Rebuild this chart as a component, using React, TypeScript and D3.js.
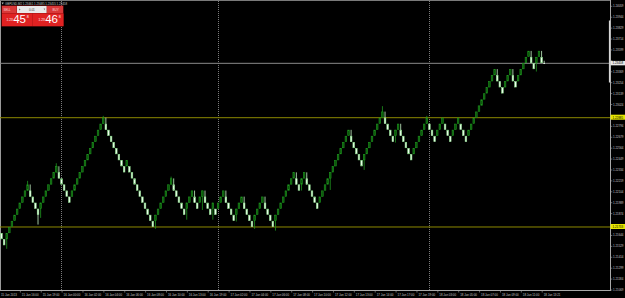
import React from "react";
import * as d3 from "d3";

const W = 625;
const H = 298;

// Renko bricks: bottom level of each brick (in brick units above BASE)
const startLevel = -1;
const brickLevels: number[] = [
  -2, -3, -2, -1, 0, 1, 2, 3, 4, 5,
  6, 5, 4, 3, 2, 3, 4, 5, 6, 7,
  8, 9, 8, 7, 6, 5, 4, 5, 6, 7,
  8, 9, 10, 11, 12, 13, 14, 15, 16, 17,
  16, 15, 14, 13, 12, 11, 10, 9, 10, 9,
  8, 7, 6, 5, 4, 3, 2, 1, 0, 1,
  2, 3, 4, 5, 6, 7, 6, 5, 4, 3,
  2, 3, 4, 5, 4, 3, 4, 5, 4, 3,
  2, 3, 2, 3, 4, 5, 4, 3, 2, 1,
  2, 3, 4, 3, 2, 1, 0, 1, 2, 3,
  4, 3, 2, 1, 0, 1, 2, 3, 4, 5,
  6, 7, 8, 7, 6, 7, 8, 7, 6, 5,
  4, 3, 4, 5, 6, 7, 8, 9, 10, 11,
  12, 13, 14, 15, 14, 13, 12, 11, 10, 11,
  12, 13, 14, 15, 16, 17, 18, 17, 16, 15,
  14, 15, 16, 15, 14, 13, 12, 11, 12, 13,
  14, 15, 16, 17, 16, 15, 14, 15, 16, 17,
  16, 15, 14, 15, 16, 17, 16, 15, 14, 15,
  16, 17, 18, 19, 20, 21, 22, 23, 24, 25,
  24, 23, 22, 23, 24, 25, 24, 23, 24, 25,
  26, 27, 28, 27, 26, 27, 28, 27,
];
const BOX = 0.00064;
const BASE = 1.21733;

// wicks: [bar index, high level, low level]
const wicks: [number, number, number][] = [
  [2, -1, -3.6], [10, 7.6, 6], [11, 7, 5], [14, 3, 0.4], [15, 4, 1.5],
  [21, 10.5, 9], [22, 10, 8], [39, 18.3, 17], [40, 18, 16], [59, 2, -0.3],
  [65, 8.3, 7], [66, 8, 6], [71, 4, 1.2], [74, 6, 4], [77, 6, 2.8],
  [78, 6, 4], [81, 4, 1.2], [86, 6, 4], [90, 3, 0.9], [93, 5, 3],
  [97, 2, -0.3], [101, 5, 3], [105, 2, -0.6], [113, 9, 7], [115, 8, 6],
  [117, 9, 7], [126, 9, 6.1], [134, 16, 14], [139, 12, 9.4], [146, 19.9, 18],
  [147, 19, 17], [151, 16, 13.9], [153, 17, 15], [163, 18.3, 17], [190, 26, 24],
  [196, 26, 24], [203, 29, 27], [205, 28, 25.6], [207, 29, 27],
];

// forming (last) bar prices
const formingOpen = 1.23461;
const formingHigh = 1.23485;
const formingLow = 1.23455;
const formingClose = 1.23458;

const symbol = "GBPUSD,M2";
const bidPrice = 1.23458;
const askPrice = 1.23468;
const lotSize = "0.01";

const levelLines = [1.22885, 1.21733];

const priceTicks = [
  1.24059, 1.23944, 1.23829, 1.23714, 1.23599, 1.23484, 1.23369, 1.23254, 1.23139,
  1.23024, 1.22909, 1.22794, 1.22679, 1.22564, 1.22449, 1.22334, 1.22219, 1.22104,
  1.21989, 1.21874, 1.21759, 1.21644, 1.21529, 1.21414, 1.21299, 1.21184, 1.21069,
];

const timeLabelBars = [0, 8, 16, 24, 32, 40, 48, 56, 64, 72, 80, 88, 96, 104, 112, 120, 128, 136, 144, 152, 160, 168, 176, 184, 192, 200, 208];
const timeLabels = [
  "15 Jan 2013", "15 Jan 16:00", "15 Jan 19:00", "16 Jan 00:00", "16 Jan 02:00",
  "16 Jan 04:00", "16 Jan 06:00", "16 Jan 08:00", "16 Jan 10:00", "16 Jan 13:00",
  "16 Jan 19:00", "17 Jan 02:00", "17 Jan 04:00", "17 Jan 06:00", "17 Jan 08:00",
  "17 Jan 10:00", "17 Jan 12:00", "17 Jan 13:00", "17 Jan 14:00", "17 Jan 17:00",
  "17 Jan 19:00", "18 Jan 03:00", "18 Jan 05:00", "18 Jan 07:00", "18 Jan 09:00",
  "18 Jan 11:00", "18 Jan 13:21",
];
const separatorBars = [23, 83, 164];

const FONT = "'Liberation Sans', Arial, sans-serif";
const AX_RIGHT = 610.5;
const AX_BOTTOM = 290.5;

export default function App() {
  const nBars = brickLevels.length + 1;
  const x = d3.scaleLinear().domain([0, nBars - 1]).range([1.5, 544.2]);
  const y = d3.scaleLinear().domain([1.21069, 1.24059]).range([290.0, 6.3]);
  const lp = (L: number) => BASE + L * BOX;
  const fmt = d3.format(".5f");

  const upFill = "#0c5a0c";
  const upStroke = "#1f951f";
  const dnFill = "#f2fff2";
  const dnStroke = "#8ee08e";

  const bricks = brickLevels.map((b, i) => {
    const prev = i === 0 ? startLevel : brickLevels[i - 1];
    const up = b > prev;
    const yt = y(lp(b + 1));
    const yb = y(lp(b));
    return { i, up, yt, yb };
  });
  const upOf = new Map(bricks.map((d) => [d.i, d.up]));

  const highlighted = [...levelLines, bidPrice].map((p) => y(p));
  const visibleTicks = priceTicks.filter((p) => highlighted.every((hy) => Math.abs(y(p) - hy) > 4.2));

  const bidStr = fmt(bidPrice);
  const askStr = fmt(askPrice);
  const parts = (s: string) => [s.slice(0, 4), s.slice(4, 6), s.slice(6)];
  const [bA, bB, bC] = parts(bidStr);
  const [aA, aB, aC] = parts(askStr);

  const ohlc = [formingOpen, formingHigh, formingLow, formingClose].map(fmt).join(" ");

  return (
    <svg
      width={W}
      height={H}
      style={{ position: "absolute", left: 0, top: 0, display: "block", background: "#000" }}
      fontFamily={FONT}
    >
      <rect x={0} y={0} width={W} height={H} fill="#000" />
      {/* frame */}
      <line x1={0.5} y1={0} x2={0.5} y2={AX_BOTTOM} stroke="#9a9a9a" strokeWidth={1} />
      <line x1={0} y1={0.5} x2={AX_RIGHT} y2={0.5} stroke="#7a7a7a" strokeWidth={1} />

      {/* period separators */}
      {separatorBars.map((b) => {
        const xx = Math.floor(x(b)) + 0.5;
        return (
          <line key={b} x1={xx} y1={1} x2={xx} y2={AX_BOTTOM} stroke="#7c7c7c" strokeWidth={1} strokeDasharray="1 1" />
        );
      })}

      {/* level lines */}
      {levelLines.map((p) => (
        <line key={p} x1={0} y1={y(p)} x2={AX_RIGHT} y2={y(p)} stroke="#8c8800" strokeWidth={1} />
      ))}
      {/* bid line */}
      <line x1={0} y1={y(bidPrice)} x2={AX_RIGHT} y2={y(bidPrice)} stroke="#8a8a8a" strokeWidth={1} />

      {/* wicks */}
      {wicks.map(([i, hi, lo]) => (
        <line
          key={"w" + i}
          x1={x(i)}
          x2={x(i)}
          y1={y(lp(hi))}
          y2={y(lp(lo))}
          stroke={upOf.get(i) ? upStroke : "#c8f5c8"}
          strokeWidth={0.8}
        />
      ))}

      {/* bricks */}
      {bricks.map((d) => (
        <rect
          key={d.i}
          x={x(d.i) - 0.8}
          y={d.yt + 0.3}
          width={1.6}
          height={d.yb - d.yt - 0.6}
          fill={d.up ? upFill : dnFill}
          stroke={d.up ? upStroke : dnStroke}
          strokeWidth={0.6}
        />
      ))}
      {/* forming bar */}
      <line x1={x(nBars - 1)} x2={x(nBars - 1)} y1={y(formingHigh)} y2={y(formingLow)} stroke="#c8f5c8" strokeWidth={0.8} />
      <rect
        x={x(nBars - 1) - 0.8}
        y={y(formingOpen)}
        width={1.6}
        height={Math.max(0.8, y(formingClose) - y(formingOpen))}
        fill={dnFill}
      />

      {/* axes */}
      <line x1={AX_RIGHT} y1={0} x2={AX_RIGHT} y2={AX_BOTTOM + 0.5} stroke="#a8a8a8" strokeWidth={1} />
      <line x1={0} y1={AX_BOTTOM} x2={AX_RIGHT} y2={AX_BOTTOM} stroke="#a8a8a8" strokeWidth={1} />
      <rect x={608.9} y={20.5} width={1.4} height={62} fill="#d6d6d6" />

      {priceTicks.map((p) => (
        <line key={"t" + p} x1={AX_RIGHT} x2={AX_RIGHT + 1.8} y1={y(p)} y2={y(p)} stroke="#a8a8a8" strokeWidth={0.6} />
      ))}
      {visibleTicks.map((p) => (
        <text key={p} x={613} y={y(p) + 1.05} fontSize={2.9} fill="#c4c4c4">
          {fmt(p)}
        </text>
      ))}

      {timeLabelBars.map((b, k) => {
        const xx = x(b);
        return (
          <g key={b}>
            <line x1={xx - 2} x2={xx - 2} y1={AX_BOTTOM} y2={AX_BOTTOM + 2} stroke="#a8a8a8" strokeWidth={0.6} />
            <text x={xx - 0.5} y={295.6} fontSize={2.9} fill="#c4c4c4">
              {timeLabels[k]}
            </text>
          </g>
        );
      })}

      {/* price highlight labels */}
      {levelLines.map((p) => (
        <g key={"hl" + p}>
          <rect x={AX_RIGHT} y={y(p) - 3} width={14.5} height={5} fill="#e6e600" />
          <text x={612.6} y={y(p) + 1.05} fontSize={2.9} fill="#000">
            {fmt(p)}
          </text>
        </g>
      ))}
      <g>
        <rect x={AX_RIGHT} y={y(bidPrice) - 2.4} width={14.5} height={4.4} fill="#e8e8e8" />
        <text x={612.6} y={y(bidPrice) + 1.05} fontSize={2.9} fill="#000">
          {bidStr}
        </text>
      </g>

      {/* header */}
      <path d="M1.6,2.4 L3.8,2.4 L2.7,4.4 Z" fill="#bdbdbd" />
      <text x={5} y={4.6} fontSize={2.9} fill="#c4c4c4">
        {symbol} {ohlc}
      </text>

      {/* one-click trading panel */}
      <g>
        <rect x={1.5} y={5.5} width={62} height={21} fill="#9c1212" />
        <rect x={2} y={6} width={14.6} height={7} fill="#d93838" />
        <text x={3.4} y={10.6} fontSize={3} fill="#ffd6d6">SELL</text>
        <rect x={17} y={6} width={29.6} height={7} fill="#e9e9e9" />
        <path d="M19,8.6 L20.6,9.5 L19,10.4 Z" fill="#777" />
        <path d="M43.6,8.6 L45.2,8.6 L44.4,10.2 Z" fill="#777" />
        <text x={31.8} y={10.6} fontSize={3} fill="#333" textAnchor="middle">{lotSize}</text>
        <rect x={47} y={6} width={16} height={7} fill="#d93838" />
        <text x={52.5} y={10.6} fontSize={3} fill="#ffd6d6">BUY</text>

        <rect x={2} y={13.5} width={30.6} height={12.5} fill="#e02222" />
        <rect x={33} y={13.5} width={30.5} height={12.5} fill="#e02222" />
        <text x={6.5} y={21} fontSize={3.2} fill="#fff">{bA}</text>
        <text x={13.2} y={23.4} fontSize={11.5} fill="#fff">{bB}</text>
        <text x={26.8} y={17.6} fontSize={3.6} fill="#fff">{bC}</text>
        <text x={38.5} y={21} fontSize={3.2} fill="#fff">{aA}</text>
        <text x={45.2} y={23.4} fontSize={11.5} fill="#fff">{aB}</text>
        <text x={58.8} y={17.6} fontSize={3.6} fill="#fff">{aC}</text>
      </g>
    </svg>
  );
}
